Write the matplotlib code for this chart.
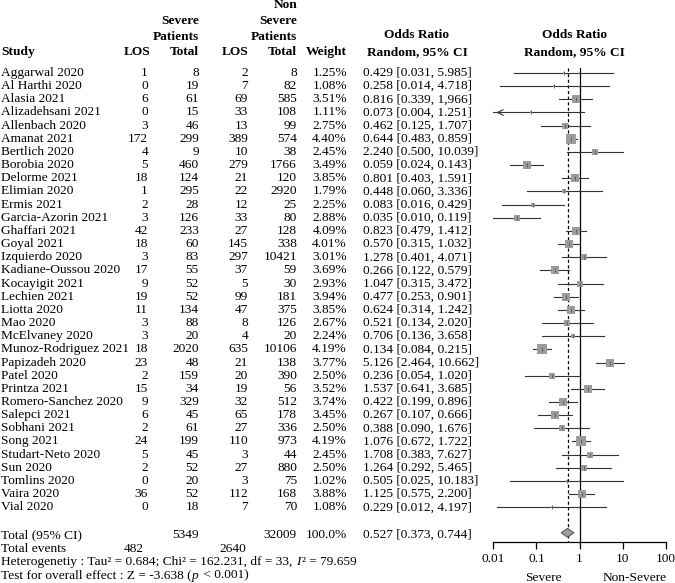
import numpy as np
import matplotlib
matplotlib.use('Agg')
import matplotlib.pyplot as plt

plt.rcParams['font.family'] = 'Liberation Serif'

studies = ['Aggarwal 2020', 'Al Harthi 2020', 'Alasia 2021', 'Alizadehsani 2021',
           'Allenbach 2020', 'Amanat 2021', 'Bertlich 2020', 'Borobia 2020',
           'Delorme 2021', 'Elimian 2020', 'Ermis 2021', 'Garcia-Azorin 2021',
           'Ghaffari 2021', 'Goyal 2021', 'Izquierdo 2020', 'Kadiane-Oussou 2020',
           'Kocayigit 2021', 'Lechien 2021', 'Liotta 2020', 'Mao 2020',
           'McElvaney 2020', 'Munoz-Rodriguez 2021', 'Papizadeh 2020', 'Patel 2020',
           'Printza 2021', 'Romero-Sanchez 2020', 'Salepci 2021', 'Sobhani 2021',
           'Song 2021', 'Studart-Neto 2020', 'Sun 2020', 'Tomlins 2020',
           'Vaira 2020', 'Vial 2020']
sev_los = [1, 0, 6, 0, 3, 172, 4, 5, 18, 1, 2, 3, 42, 18, 3, 17, 9, 19, 11, 3,
           3, 18, 23, 2, 15, 9, 6, 2, 24, 5, 2, 0, 36, 0]
sev_total = [8, 19, 61, 15, 46, 299, 9, 460, 124, 295, 28, 126, 233, 60, 83, 55,
             52, 52, 134, 88, 20, 2020, 48, 159, 34, 329, 45, 61, 199, 45, 52, 20,
             52, 18]
non_los = [2, 7, 69, 33, 13, 389, 10, 279, 21, 22, 12, 33, 27, 145, 297, 37, 5,
           99, 47, 8, 4, 635, 21, 20, 19, 32, 65, 27, 110, 3, 27, 3, 112, 7]
non_total = [8, 82, 585, 108, 99, 574, 38, 1766, 120, 2920, 25, 80, 128, 338,
             10421, 59, 30, 181, 375, 126, 20, 10106, 138, 390, 56, 512, 178, 336,
             973, 44, 880, 75, 168, 70]
weight = [1.25, 1.08, 3.51, 1.11, 2.75, 4.40, 2.45, 3.49, 3.85, 1.79, 2.25, 2.88,
          4.09, 4.01, 3.01, 3.69, 2.93, 3.94, 3.85, 2.67, 2.24, 4.19, 3.77, 2.50,
          3.52, 3.74, 3.45, 2.50, 4.19, 2.45, 2.50, 1.02, 3.88, 1.08]
odds = [0.429, 0.258, 0.816, 0.073, 0.462, 0.644, 2.240, 0.059, 0.801, 0.448,
        0.083, 0.035, 0.823, 0.570, 1.278, 0.266, 1.047, 0.477, 0.624, 0.521,
        0.706, 0.134, 5.126, 0.236, 1.537, 0.422, 0.267, 0.388, 1.076, 1.708,
        1.264, 0.505, 1.125, 0.229]
ci_lo = [0.031, 0.014, 0.339, 0.004, 0.125, 0.483, 0.500, 0.024, 0.403, 0.060,
         0.016, 0.010, 0.479, 0.315, 0.401, 0.122, 0.315, 0.253, 0.314, 0.134,
         0.136, 0.084, 2.464, 0.054, 0.641, 0.199, 0.107, 0.090, 0.672, 0.383,
         0.292, 0.025, 0.575, 0.012]
ci_hi = [5.985, 4.718, 1.966, 1.251, 1.707, 0.859, 10.039, 0.143, 1.591, 3.336,
         0.429, 0.119, 1.412, 1.032, 4.071, 0.579, 3.472, 0.901, 1.242, 2.020,
         3.658, 0.215, 10.662, 1.020, 3.685, 0.896, 0.666, 1.676, 1.722, 7.627,
         5.465, 10.183, 2.200, 4.197]

total_or, total_lo, total_hi = 0.527, 0.373, 0.744
total_sev, total_non = 5349, 32009
events_sev, events_non = 482, 2640

W, H = 675, 583
fig = plt.figure(figsize=(W / 100, H / 100), dpi=100)

# text layer in pixel coordinates
tax = fig.add_axes([0, 0, 1, 1])
tax.set_xlim(0, W)
tax.set_ylim(H, 0)
tax.axis('off')

fs = 9.6
row0, dy = 73, 13.16
ys = [row0 + dy * i for i in range(len(studies))]

# headers
hb = dict(fontsize=fs, fontweight='bold', va='center')
tax.text(297, 5, 'Non', ha='right', **hb)
tax.text(199, 21, 'Severe', ha='right', **hb)
tax.text(297, 21, 'Severe', ha='right', **hb)
tax.text(199, 37, 'Patients', ha='right', **hb)
tax.text(297, 37, 'Patients', ha='right', **hb)
tax.text(1, 52, 'Study', ha='left', **hb)
tax.text(151, 52, 'LOS', ha='right', **hb)
tax.text(199, 52, 'Total', ha='right', **hb)
tax.text(248, 52, 'LOS', ha='right', **hb)
tax.text(297, 52, 'Total', ha='right', **hb)
tax.text(347, 52, 'Weight', ha='right', **hb)
tax.text(417, 35, 'Odds Ratio', ha='center', **hb)
tax.text(417, 52, 'Random, 95% CI', ha='center', **hb)
tax.text(574, 35, 'Odds Ratio', ha='center', **hb)
tax.text(574, 52, 'Random, 95% CI', ha='center', **hb)

tr = dict(fontsize=fs, va='center')
for i, y in enumerate(ys):
    tax.text(1, y, studies[i], ha='left', **tr)
    tax.text(148, y, str(sev_los[i]), ha='right', **tr)
    tax.text(199, y, str(sev_total[i]), ha='right', **tr)
    tax.text(248, y, str(non_los[i]), ha='right', **tr)
    tax.text(297, y, str(non_total[i]), ha='right', **tr)
    tax.text(347, y, '%.2f%%' % weight[i], ha='right', **tr)
    lab = '%.3f [%.3f, %.3f]' % (odds[i], ci_lo[i], ci_hi[i])
    if studies[i] == 'Alasia 2021':
        lab = lab.replace('1.966', '1,966')  # as printed in the original
    tax.text(363, y, lab, ha='left', **tr)

y_tot = 535
tax.text(1, y_tot, 'Total (95% CI)', ha='left', **tr)
tax.text(199, y_tot, str(total_sev), ha='right', **tr)
tax.text(297, y_tot, str(total_non), ha='right', **tr)
tax.text(347, y_tot, '100.0%', ha='right', **tr)
tax.text(363, y_tot, '%.3f [%.3f, %.3f]' % (total_or, total_lo, total_hi), ha='left', **tr)
tax.text(1, 548.5, 'Total events', ha='left', **tr)
tax.text(144, 548.5, str(events_sev), ha='right', **tr)
tax.text(246, 548.5, str(events_non), ha='right', **tr)


# pieces of text with italic parts, laid out one after another
def run_text(x, y, parts):
    r = fig.canvas.get_renderer()
    for s, style in parts:
        t = tax.text(x, y, s, ha='left', style=style, **tr)
        bb = t.get_window_extent(renderer=r)
        x += bb.width
        if style == 'italic':
            x += 1.5


run_text(1, 562, [('Heterogenetiy : Tau\u00b2 = 0.684; Chi\u00b2 = 162.231, df = 33, ', 'normal'),
                  ('I', 'italic'), ('\u00b2 = 79.659', 'normal')])
run_text(1, 575.5, [('Test for overall effect : Z = -3.638 (', 'normal'), ('p', 'italic'),
                    (' < 0.001)', 'normal')])

# forest panel
x0, x1 = 493.3, 665.7
y_axis, y_top = 541.7, 60
ax = fig.add_axes([x0 / W, (H - y_axis) / H, (x1 - x0) / W, (y_axis - y_top) / H])
ax.set_facecolor('none')
ax.set_xscale('log')
ax.set_xlim(0.01, 100)
ax.set_ylim(y_axis, y_top)
for s in ['top', 'left', 'right']:
    ax.spines[s].set_visible(False)
ax.spines['bottom'].set_linewidth(0.9)
ax.set_yticks([])
ax.set_xticks([0.01, 0.1, 1, 10, 100])
ax.set_xticklabels(['0.01', '0.1', '1', '10', '100'], fontsize=fs)
ax.minorticks_off()
ax.tick_params(axis='x', direction='out', length=5, width=0.9, pad=3)

ax.plot([1, 1], [68, y_axis], color='black', lw=0.9, clip_on=False)
ax.plot([total_or, total_or], [68, y_axis], color='black', lw=0.9, ls=(0, (2.5, 2)))

for i, y in enumerate(ys):
    lo = max(ci_lo[i], 0.01)
    ax.plot([lo, ci_hi[i]], [y, y], color='#333333', lw=0.8, zorder=2)
    if ci_lo[i] < 0.01:
        ax.annotate('', xy=(0.0102, y), xytext=(0.016, y),
                    arrowprops=dict(arrowstyle='->', color='#333333', lw=0.8,
                                    mutation_scale=10))
    ax.plot(odds[i], y, 's', ms=weight[i] * 1.55, mfc='#9c9c9c', mec='#9c9c9c',
            mew=0, zorder=3)
    ax.plot(odds[i], y, '|', ms=3, mec='#555555', mew=0.6, zorder=4)

lt, ot, ht = np.log10(total_lo), np.log10(total_or), np.log10(total_hi)
yd = 532.8
ax.fill([10 ** lt, 10 ** ot, 10 ** ht, 10 ** ot], [yd, yd - 4.5, yd, yd + 4.5],
        facecolor='#9c9c9c', edgecolor='#555555', lw=0.7, zorder=3)

tax.text(543, 578, 'Severe', ha='center', **tr)
tax.text(635, 578, 'Non-Severe', ha='center', **tr)

fig.savefig('out.png', dpi=100)
